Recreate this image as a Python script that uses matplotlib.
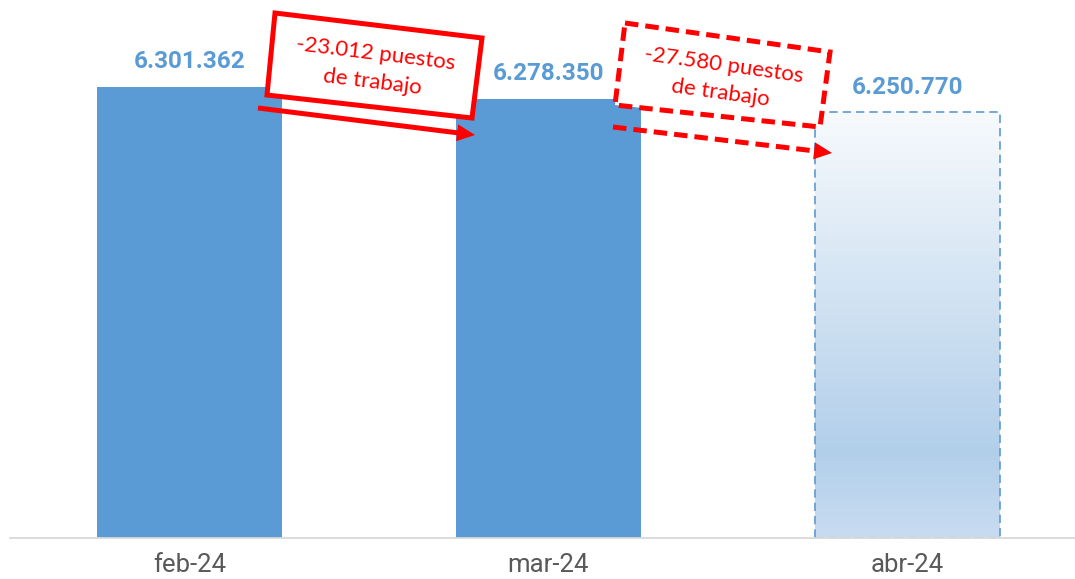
import numpy as np
import matplotlib
matplotlib.use("Agg")
import matplotlib.pyplot as plt
from matplotlib.patches import Polygon
from matplotlib.lines import Line2D
from matplotlib.colors import LinearSegmentedColormap

# ---- data ----
categories = ["feb-24", "mar-24", "abr-24"]
values = [6301362, 6278350, 6250770]
value_labels = ["6.301.362", "6.278.350", "6.250.770"]
change_labels = ["-23.012 puestos\nde trabajo", "-27.580 puestos\nde trabajo"]

W, H = 1075, 579
BLUE = "#5B9BD5"
RED = "#FF0000"

fig = plt.figure(figsize=(W / 100, H / 100), dpi=100)
ax = fig.add_axes([10 / W, 41 / H, 1 - 10 / W, 538 / H])

ymin = 5400000
scale = (values[0] - ymin) / 451.0  # units per pixel
ax.set_ylim(ymin, ymin + 538 * scale)
ax.set_xlim(-0.5, 2.467)

x = np.arange(len(categories))
bw = 0.515
# solid bars (first two)
ax.bar(x[:2], [v - ymin for v in values[:2]], bottom=ymin, width=bw,
       color=BLUE, zorder=2)

# gradient projected bar
grad_cmap = LinearSegmentedColormap.from_list(
    "g", [(0.0, "#C8DCF1"), (0.2, "#B2CFEA"), (1.0, "#F7FAFD")])
grad = np.linspace(0, 1, 256).reshape(-1, 1)
x0, x1 = x[2] - bw / 2, x[2] + bw / 2
ax.imshow(grad, cmap=grad_cmap, origin="lower", aspect="auto",
          extent=[x0, x1, ymin, values[2]], zorder=1, interpolation="bilinear")
ax.bar([x[2]], [values[2] - ymin], bottom=ymin, width=bw, facecolor="none",
       edgecolor=BLUE, linewidth=1.2, linestyle=(0, (5, 3)), zorder=2)

# value labels
for xi, v, lab in zip(x, values, value_labels):
    ax.annotate(lab, (xi, v), xytext=(0, 13.5), textcoords="offset points",
                ha="center", va="baseline", fontsize=17.5, fontweight="bold",
                color=BLUE, family="Roboto", zorder=3)

ax.set_xticks(x)
ax.set_xticklabels(categories, fontsize=18.5, color="#595959", family="Roboto")
ax.tick_params(axis="x", length=0, pad=11)
ax.set_yticks([])
for s in ["top", "left", "right"]:
    ax.spines[s].set_visible(False)
ax.spines["bottom"].set_color("#D9D9D9")
ax.spines["bottom"].set_linewidth(1.3)
ax.set_facecolor("none")


def P(px, py):
    return (px / W, 1 - py / H)


def arrow(start, end, dashed):
    sx, sy = start
    ex, ey = end
    d = np.array([ex - sx, ey - sy], float)
    L = np.hypot(*d)
    u = d / L
    n = np.array([-u[1], u[0]])
    hl, hw = 18, 8.5
    base = np.array([ex, ey]) - u * hl
    ls = (0, (2.7, 1.4)) if dashed else "-"
    fig.add_artist(Line2D([sx / W, (base[0] + u[0] * 2) / W],
                          [1 - sy / H, 1 - (base[1] + u[1] * 2) / H],
                          transform=fig.transFigure, color=RED, lw=3.6,
                          linestyle=ls, solid_capstyle="butt",
                          dash_capstyle="butt", zorder=5))
    pts = [P(ex, ey), P(*(base + n * hw)), P(*(base - n * hw))]
    fig.add_artist(Polygon(pts, closed=True, transform=fig.transFigure,
                           facecolor=RED, edgecolor="none", zorder=5))


def box(corners, dashed):
    ls = (0, (2.7, 1.4)) if dashed else "-"
    fig.add_artist(Polygon([P(*c) for c in corners], closed=True,
                           transform=fig.transFigure, facecolor="white",
                           edgecolor=RED, lw=3.6, linestyle=ls,
                           joinstyle="miter", zorder=4))


# annotation 1
box([(275, 13), (482, 38), (472, 118), (267, 95)], dashed=False)
arrow((258, 108), (475, 135), dashed=False)
fig.text(*P(374, 68), change_labels[0], ha="center", va="center",
         rotation=-7, rotation_mode="anchor", fontsize=16, color=RED,
         family="Lato", linespacing=1.5, zorder=6)

# annotation 2
box([(625, 23), (830, 52), (820, 127), (615, 105)], dashed=True)
arrow((613, 127), (832, 153), dashed=True)
fig.text(*P(722, 79), change_labels[1], ha="center", va="center",
         rotation=-8, rotation_mode="anchor", fontsize=16, color=RED,
         family="Lato", linespacing=1.5, zorder=6)

fig.savefig("out.png", dpi=100)
